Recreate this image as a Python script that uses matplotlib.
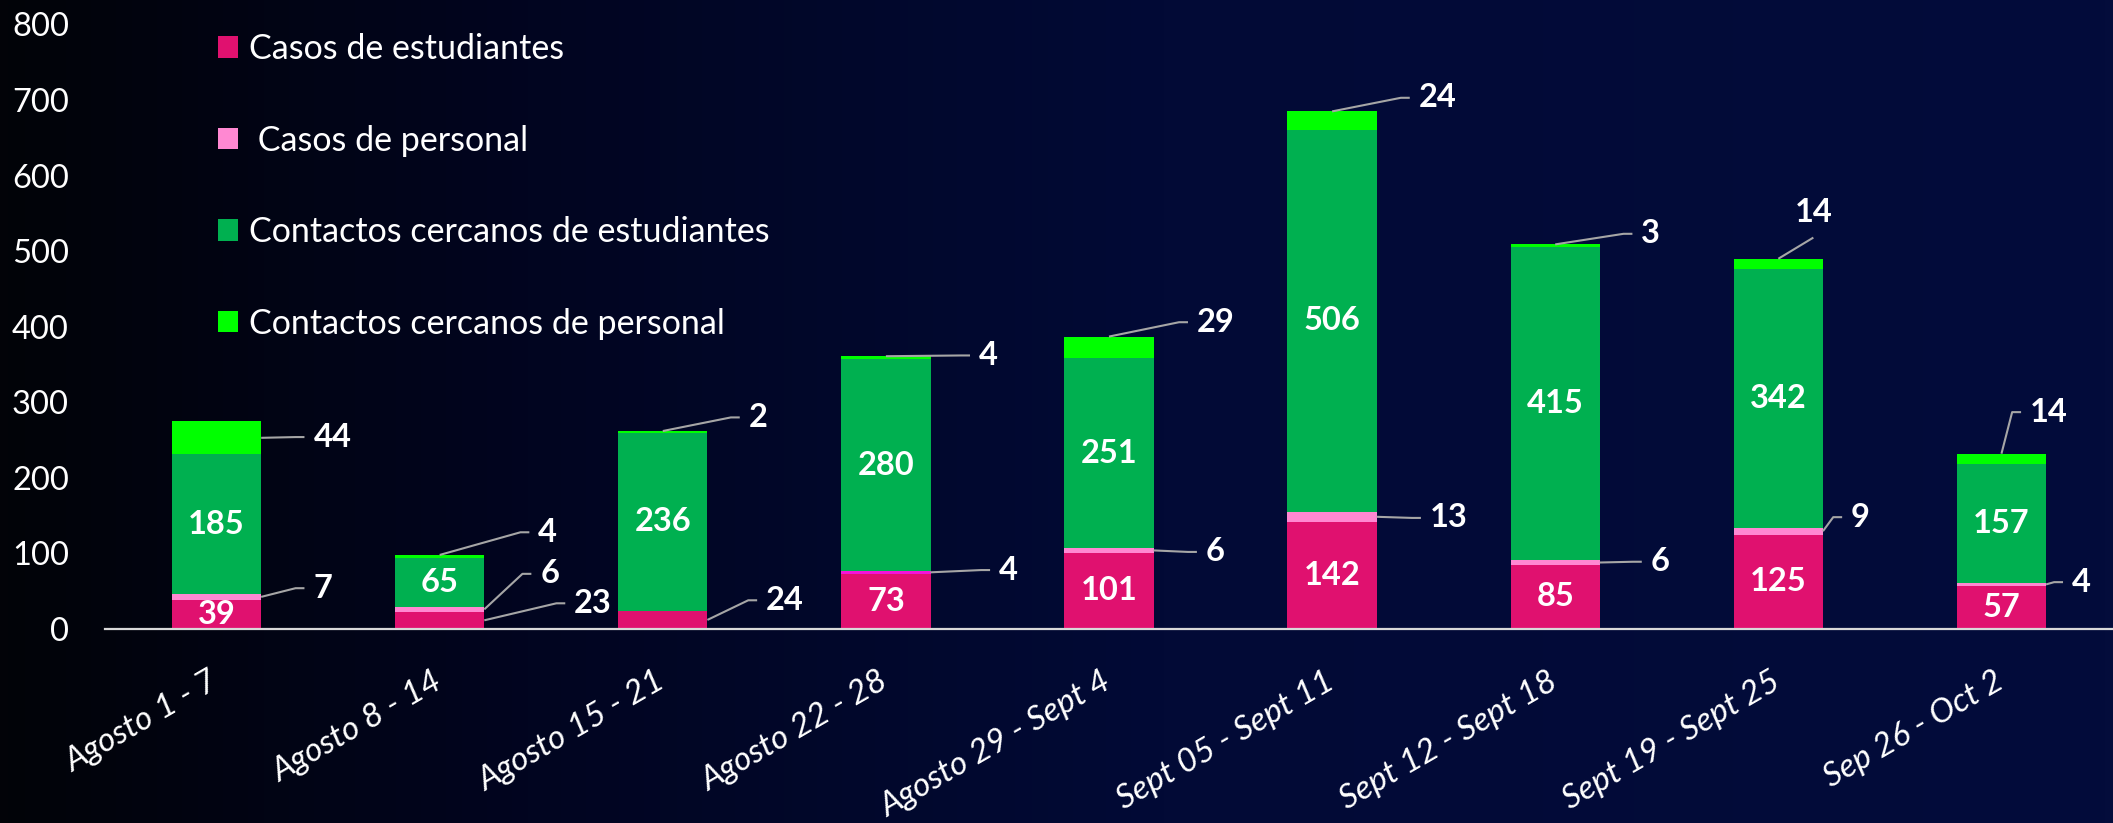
import numpy as np
import matplotlib
matplotlib.use("Agg")
import matplotlib.pyplot as plt
import matplotlib.transforms as mtransforms
from matplotlib.patches import Patch
from matplotlib.colors import LinearSegmentedColormap

# ---------------- data ----------------
semanas = ["Agosto 1 - 7", "Agosto 8 - 14", "Agosto 15 - 21", "Agosto 22 - 28",
           "Agosto 29 - Sept 4", "Sept 05 - Sept 11", "Sept 12 - Sept 18",
           "Sept 19 - Sept 25", "Sep 26 - Oct 2"]
casos_estudiantes = [39, 23, 24, 73, 101, 142, 85, 125, 57]
casos_personal = [7, 6, 0, 4, 6, 13, 6, 9, 4]
contactos_estudiantes = [185, 65, 236, 280, 251, 506, 415, 342, 157]
contactos_personal = [44, 4, 2, 4, 29, 24, 3, 14, 14]
nombres_series = ["Casos de estudiantes", " Casos de personal",
                  "Contactos cercanos de estudiantes", "Contactos cercanos de personal"]
y_ticks = [0, 100, 200, 300, 400, 500, 600, 700, 800]

# ---------------- style ----------------
colores = ["#E0116F", "#FF88D2", "#00B050", "#00FF00"]
color_personal_override = {3: "#F414D8"}
leader_color = "#A6A6A6"

plt.rcParams['font.family'] = ['Lato', 'DejaVu Sans']

W, H = 2113, 823
fig = plt.figure(figsize=(W / 100, H / 100), dpi=100)

# background gradient (black -> navy)
bg = fig.add_axes([0, 0, 1, 1], zorder=-10)
cmap = LinearSegmentedColormap.from_list(
    "bg", [(0.0, "#020308"), (0.25, "#010520"), (0.55, "#020a36"), (1.0, "#030c3b")])
grad = np.linspace(0, 1, 512).reshape(1, -1)
bg.imshow(grad, aspect="auto", cmap=cmap, extent=[0, 1, 0, 1])
bg.set_axis_off()

ax_left, ax_right = 105, 2113
ax_bottom, ax_top = 629, 24.5
ax = fig.add_axes([ax_left / W, 1 - ax_bottom / H, (ax_right - ax_left) / W,
                   (ax_bottom - ax_top) / H])
ax.set_facecolor("none")

series = [casos_estudiantes, casos_personal, contactos_estudiantes, contactos_personal]
x = np.arange(len(semanas))
width = 0.40
bottoms = np.zeros(len(semanas))
segments = []
for s, (vals, col) in enumerate(zip(series, colores)):
    vals = np.array(vals, dtype=float)
    if s == 1:
        cols = [color_personal_override.get(i, col) for i in range(len(vals))]
    else:
        cols = col
    ax.bar(x, vals, width, bottom=bottoms, color=cols, linewidth=0, zorder=2)
    segments.append((bottoms.copy(), vals))
    bottoms = bottoms + vals

ax.set_xlim(-0.5, 8.5)
ax.set_ylim(0, 800)
ax.set_yticks(y_ticks)
ax.set_xticks(x)
ax.set_xticklabels(semanas, rotation=30, ha="right", rotation_mode="anchor",
                   fontstyle="italic")
ax.tick_params(axis="y", length=0, pad=26, labelsize=23.5, labelcolor="white")
ax.tick_params(axis="x", length=0, pad=27, labelsize=24, labelcolor="white")
shift = mtransforms.ScaledTranslation(-8 / 100, 0, fig.dpi_scale_trans)
for lbl in ax.get_xticklabels():
    lbl.set_transform(lbl.get_transform() + shift)
for sp in ["top", "right", "left"]:
    ax.spines[sp].set_visible(False)
ax.spines["bottom"].set_color("#D9D9D9")
ax.spines["bottom"].set_linewidth(1.6)
ax.spines["bottom"].set_zorder(3)

lab_kw = dict(color="white", fontsize=23.5, fontweight="bold")

# inside labels
inside = {0: [0, 3, 4, 5, 6, 7, 8], 2: list(range(9))}
for s, idxs in inside.items():
    b, v = segments[s]
    for i in idxs:
        ax.text(i, b[i] + v[i] / 2, f"{int(v[i])}", ha="center", va="center",
                zorder=4, **lab_kw)

# outside labels: (series, bar, text dx, text y, anchor)
outside = [
    (3, 0, 0.434, 254, "right"), (3, 1, 0.442, 128, "top"), (3, 2, 0.385, 280, "top"),
    (3, 3, 0.417, 362, "top"), (3, 4, 0.394, 406, "top"), (3, 5, 0.388, 703, "top"),
    (3, 6, 0.386, 523, "top"), (3, 7, 0.157, 551, "above"), (3, 8, 0.128, 287, "top"),
    (1, 0, 0.434, 54, "right"), (1, 1, 0.451, 73, "right"), (1, 3, 0.507, 78, "right"),
    (1, 4, 0.434, 102, "right"), (1, 5, 0.438, 147, "right"), (1, 6, 0.428, 89, "right"),
    (1, 7, 0.326, 148, "right"), (1, 8, 0.316, 62, "right"),
    (0, 1, 0.603, 34, "right"), (0, 2, 0.463, 38, "right"),
]
for s, i, dx, ty, anchor in outside:
    b, v = segments[s]
    if anchor == "right":
        ax_, ay_ = i + width / 2, b[i] + v[i] / 2
    else:
        ax_, ay_ = i, b[i] + v[i]
    if anchor == "above":
        tx = i + dx
        ax.plot([ax_, tx], [ay_, ty - 33], color=leader_color, lw=1.5, zorder=3,
                solid_capstyle="butt")
        ax.text(tx, ty, f"{int(v[i])}", ha="center", va="center", **lab_kw)
    else:
        tx = i + dx
        end = tx - 0.04
        elbow = end - 0.04
        ax.plot([ax_, elbow, end], [ay_, ty, ty], color=leader_color, lw=1.5,
                zorder=3, solid_capstyle="butt", clip_on=False)
        ax.text(tx, ty, f"{int(v[i])}", ha="left", va="center", **lab_kw)

# legend
handles = [Patch(facecolor=c, edgecolor="none") for c in colores]
leg = ax.legend(handles, nombres_series, loc="upper left",
                bbox_to_anchor=(218 / W, 1 - 33 / H), bbox_transform=fig.transFigure,
                frameon=False, fontsize=24.5, labelcolor="white",
                handlelength=0.6, handleheight=0.6, handletextpad=0.3,
                labelspacing=1.75, borderpad=0, borderaxespad=0)

fig.savefig("out.png", dpi=100)
